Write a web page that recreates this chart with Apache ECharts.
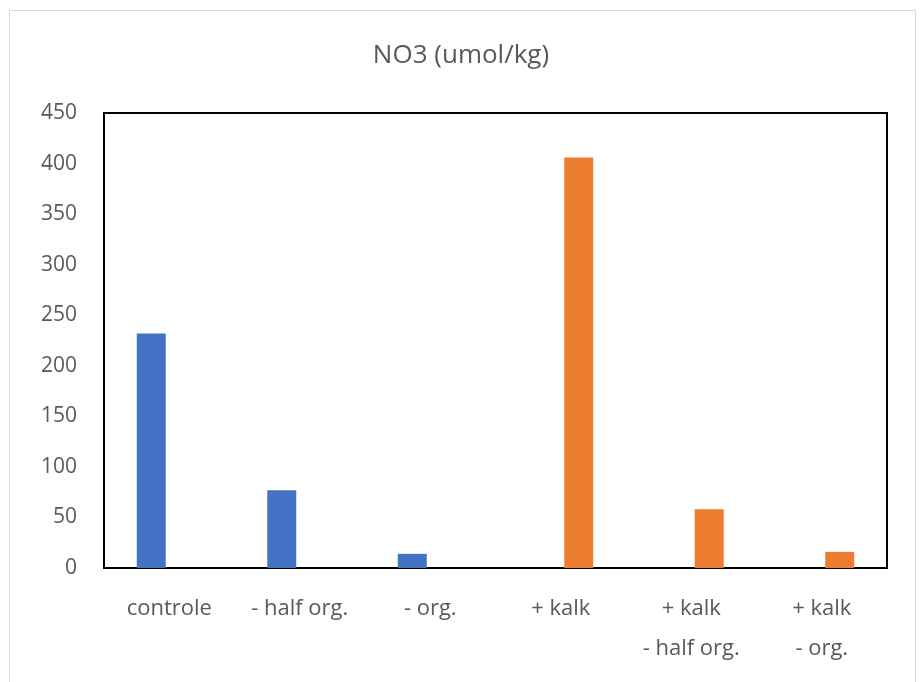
<!DOCTYPE html>
<html lang="en">
<head>
    <meta charset="UTF-8">
    <title>NO3 (umol/kg)</title>
    <script type="text/javascript" src="https://cdn.jsdelivr.net/npm/echarts@6/dist/echarts.min.js"></script>
    <style>
        body { margin: 0; background: #fff; }
        #frame { position: absolute; left: 9px; top: 10px; width: 907px; height: 680px; border: 1px solid #d9d9d9; box-sizing: border-box; }
        #main { position: absolute; left: 0; top: 0; width: 922px; height: 682px; }
    </style>
</head>
<body>
<div id="frame"></div>
<div id="main"></div>
<script type="text/javascript">
    var categories = ['controle', '- half org.', '- org.', '+ kalk', '+ kalk\n- half org.', '+ kalk\n- org.'];
    var blueValues = [232, 77, 14, null, null, null];
    var orangeValues = [null, null, null, 406, 58, 16];
    var yTicks = [0, 50, 100, 150, 200, 250, 300, 350, 400, 450];

    var textColor = '#595959';
    var myChart = echarts.init(document.getElementById('main'));

    var option = {
        animation: false,
        title: {
            text: 'NO3 (umol/kg)',
            left: 'center',
            top: 38,
            textStyle: { fontFamily: 'Open Sans', fontSize: 26, fontWeight: 'normal', color: textColor }
        },
        grid: {
            left: 104, right: 35, top: 113, bottom: 114,
            show: true, borderColor: '#000', borderWidth: 2, backgroundColor: '#fff'
        },
        xAxis: {
            type: 'category',
            data: categories,
            axisLine: { show: true, lineStyle: { color: '#000', width: 2 } },
            axisTick: { show: false },
            axisLabel: {
                interval: 0, margin: 21, color: textColor,
                fontFamily: 'Open Sans', fontSize: 22, lineHeight: 40
            }
        },
        yAxis: {
            type: 'value',
            min: yTicks[0], max: yTicks[yTicks.length - 1], interval: 50,
            axisLine: { show: false },
            axisTick: { show: false },
            splitLine: { show: false },
            axisLabel: { margin: 27, color: textColor, fontFamily: 'Open Sans', fontSize: 21 }
        },
        series: [
            { type: 'bar', data: blueValues, barWidth: 29, barGap: '24%', itemStyle: { color: '#4472c4' } },
            { type: 'bar', data: orangeValues, barWidth: 29, barGap: '24%', itemStyle: { color: '#ed7d31' } }
        ]
    };
    myChart.setOption(option);
</script>
</body>
</html>
